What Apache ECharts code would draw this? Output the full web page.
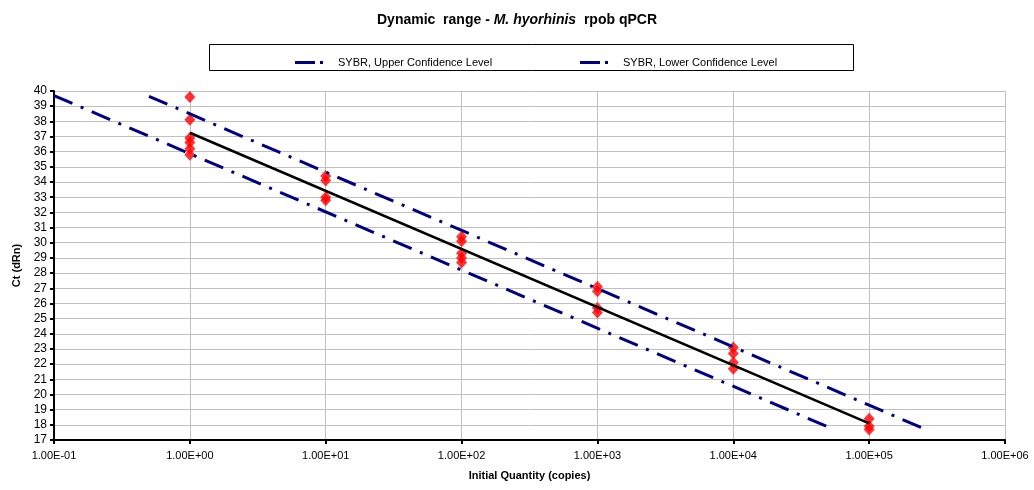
<!DOCTYPE html>
<html>
<head>
<meta charset="utf-8">
<script src="https://cdn.jsdelivr.net/npm/echarts@6/dist/echarts.min.js"></script>
<style>html,body{margin:0;padding:0;background:#fff}#c{width:1034px;height:490px}</style>
</head>
<body>
<div id="c"></div>
<script>
// Data
const quantities = [1, 10, 100, 1000, 10000, 100000];
const ctValues = [
  [39.6, 38.1, 36.9, 36.6, 36.2, 35.8],
  [34.4, 34.1, 33.0, 32.8],
  [30.4, 30.1, 29.3, 29.0, 28.7],
  [27.1, 26.8, 25.7, 25.4],
  [23.1, 22.7, 22.1, 21.7],
  [18.4, 17.9, 17.7]
];
const fitLine = [[1, 37.25], [100000, 18.1]];
const upperCL = [[0.5, 39.65], [245000, 17.8]];
const lowerCL = [[0.1, 39.7], [50800, 17.83]];
const upperName = 'SYBR, Upper Confidence Level';
const lowerName = 'SYBR, Lower Confidence Level';

const scatterData = [];
quantities.forEach((q, i) => ctValues[i].forEach(v => scatterData.push([q, v])));

function fmtExp(v) {
  const e = Math.round(Math.log10(v));
  const m = v / Math.pow(10, e);
  const sign = e < 0 ? '-' : '+';
  const ae = Math.abs(e);
  return m.toFixed(2) + 'E' + sign + (ae < 10 ? '0' + ae : ae);
}

const font = 'Arial, "Liberation Sans", sans-serif';
const dashDot = [20, 9, 3, 9];
const legendIcon = 'path://M0,0h20v3H0z M25,0h3v3h-3z';
const chart = echarts.init(document.getElementById('c'));
chart.setOption({
  animation: false,
  textStyle: { fontFamily: font },
  title: {
    left: 'center', top: 8,
    text: '{b|Dynamic  range - }{i|M. hyorhinis}{b|  rpob qPCR}',
    textStyle: {
      rich: {
        b: { fontFamily: font, fontWeight: 'bold', fontSize: 14, color: '#000' },
        i: { fontFamily: font, fontWeight: 'bold', fontStyle: 'italic', fontSize: 14, color: '#000' }
      }
    }
  },
  graphic: [{
    type: 'rect', shape: { x: 209.5, y: 44.5, width: 644, height: 26 },
    style: { fill: '#fff', stroke: '#000', lineWidth: 1 }, z: -1
  }],
  legend: [
    { data: [{ name: upperName, icon: legendIcon }], left: 290, top: 52, itemWidth: 28, itemHeight: 3,
      itemStyle: { color: '#000080' },
      textStyle: { fontFamily: font, fontSize: 11, color: '#000', padding: [0, 0, 0, 10] } },
    { data: [{ name: lowerName, icon: legendIcon }], left: 575, top: 52, itemWidth: 28, itemHeight: 3,
      itemStyle: { color: '#000080' },
      textStyle: { fontFamily: font, fontSize: 11, color: '#000', padding: [0, 0, 0, 10] } }
  ],
  grid: { left: 54, right: 29, top: 91, bottom: 50 },
  xAxis: {
    type: 'log', logBase: 10, min: 0.1, max: 1000000, splitNumber: 7,
    name: 'Initial Quantity (copies)', nameLocation: 'middle', nameGap: 30,
    nameTextStyle: { fontFamily: font, fontWeight: 'bold', fontSize: 11, color: '#000' },
    axisLine: { lineStyle: { color: '#000', width: 2 } },
    axisTick: { show: true, length: 4, lineStyle: { color: '#000', width: 2 } },
    axisLabel: { formatter: fmtExp, fontFamily: font, fontSize: 11, color: '#000', margin: 10 },
    splitLine: { show: true, lineStyle: { color: '#c0c0c0', width: 1 } },
    minorTick: { show: false }
  },
  yAxis: {
    type: 'value', min: 17, max: 40, interval: 1,
    name: 'Ct (dRn)', nameLocation: 'middle', nameGap: 30, nameRotate: 90,
    nameTextStyle: { fontFamily: font, fontWeight: 'bold', fontSize: 11, color: '#000' },
    axisLine: { show: true, lineStyle: { color: '#000', width: 2 } },
    axisTick: { show: true, length: 4, lineStyle: { color: '#000', width: 2 } },
    axisLabel: { fontFamily: font, fontSize: 12, color: '#000', margin: 7 },
    splitLine: { show: true, lineStyle: { color: '#c0c0c0', width: 1 } }
  },
  series: [
    { name: 'data', type: 'scatter', data: scatterData, symbol: 'diamond', symbolSize: [11, 12],
      itemStyle: { color: '#ff0000' }, z: 2 },
    { name: 'fit', type: 'line', data: fitLine, symbol: 'none',
      lineStyle: { color: '#000', width: 2.5 }, z: 3 },
    { name: upperName, type: 'line', data: upperCL, symbol: 'none',
      itemStyle: { color: '#000080' },
      lineStyle: { color: '#000080', width: 3, type: dashDot }, z: 4 },
    { name: lowerName, type: 'line', data: lowerCL, symbol: 'none',
      itemStyle: { color: '#000080' },
      lineStyle: { color: '#000080', width: 3, type: dashDot }, z: 4 }
  ]
});
</script>
</body>
</html>
